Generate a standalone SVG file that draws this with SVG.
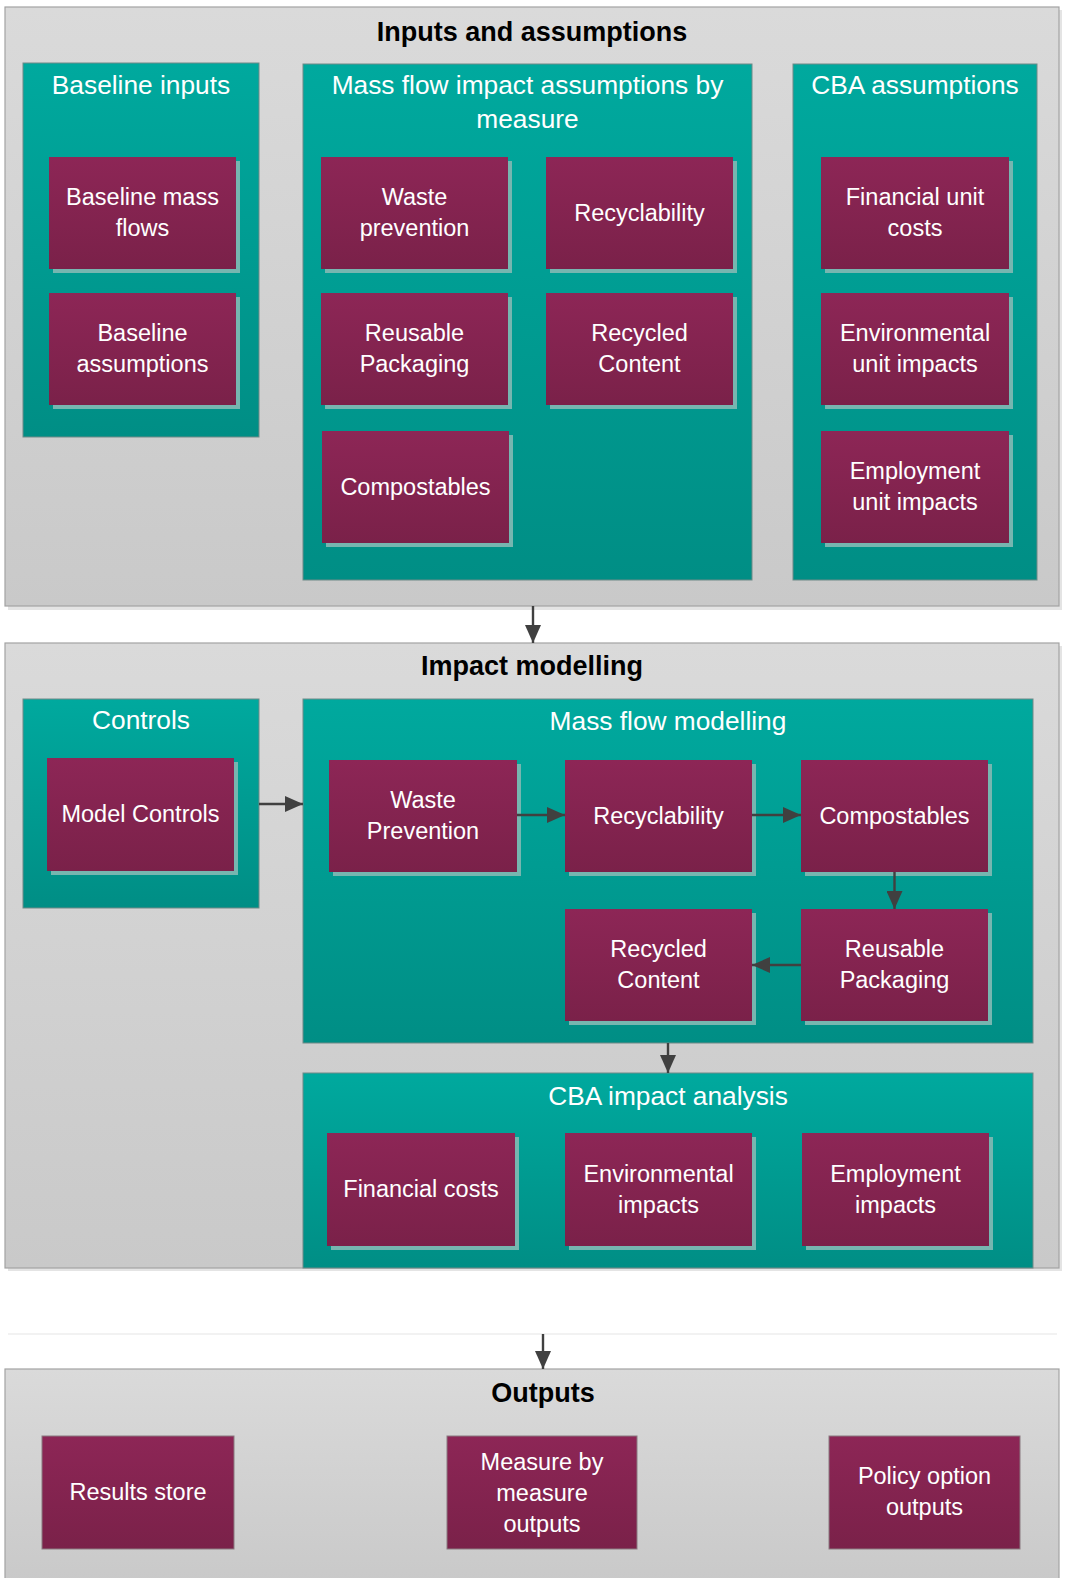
<svg xmlns="http://www.w3.org/2000/svg" width="1065" height="1578" viewBox="0 0 1065 1578">
<defs>
<linearGradient id="gGrey" x1="0" y1="0" x2="0" y2="1"><stop offset="0" stop-color="#dadada"/><stop offset="1" stop-color="#c9c9c9"/></linearGradient>
<linearGradient id="gTeal" x1="0" y1="0" x2="0" y2="1"><stop offset="0" stop-color="#00a99e"/><stop offset="1" stop-color="#008e85"/></linearGradient>
<linearGradient id="gMag" x1="0" y1="0" x2="0" y2="1"><stop offset="0" stop-color="#8d2656"/><stop offset="1" stop-color="#7a2149"/></linearGradient>
<marker id="ah" markerUnits="userSpaceOnUse" markerWidth="18" markerHeight="16" refX="18" refY="8" orient="auto"><path d="M0,0 L18,8 L0,16 z" fill="#404040"/></marker>
<style>
.panel{fill:url(#gGrey);stroke:#a3a3a3;stroke-width:1.2}
.pshadow{fill:#e4e4e4}
.teal{fill:url(#gTeal);stroke:#6e8a87;stroke-width:1}
.mag{fill:url(#gMag)}
.outb{fill:url(#gMag);stroke:#8a7a80;stroke-width:1}
.sh{fill:#76b6b0}
.pt{font-family:"Liberation Sans",Arial,sans-serif;font-weight:bold;font-size:27px;fill:#000;text-anchor:middle}
.th{font-family:"Liberation Sans",Arial,sans-serif;font-size:26.3px;fill:#fff;text-anchor:middle}
.bt{font-family:"Liberation Sans",Arial,sans-serif;font-size:23.5px;fill:#fff;text-anchor:middle}
.con{stroke:#404040;stroke-width:2.4;fill:none;marker-end:url(#ah)}
</style>
</defs>
<rect x="0" y="0" width="1065" height="1578" fill="#ffffff"/>

<g id="panel-inputs">
<rect class="pshadow" x="8" y="10" width="1054" height="600"/>
<rect class="panel" x="5" y="7" width="1054" height="599"/>
<text class="pt" x="532" y="41">Inputs and assumptions</text>
</g>
<g id="panel-impact">
<rect class="pshadow" x="8" y="646" width="1054" height="625"/>
<rect class="panel" x="5" y="643" width="1054" height="625"/>
<text class="pt" x="532" y="675">Impact modelling</text>
</g>
<line x1="8" y1="1334" x2="1057" y2="1334" stroke="#e6e6e6" stroke-width="1.2"/>
<g id="panel-outputs">
<rect class="panel" x="5" y="1369" width="1054" height="215"/>
<text class="pt" x="543" y="1402">Outputs</text>
</g>

<g id="baseline-inputs">
<rect class="teal" x="23" y="63" width="236" height="374"/>
<text class="th" x="141" y="94">Baseline inputs</text>
</g>
<g id="mass-flow-assumptions">
<rect class="teal" x="303" y="64" width="449" height="516"/>
<text class="th" x="527.5" y="94">Mass flow impact assumptions by</text>
<text class="th" x="527.5" y="128">measure</text>
</g>
<g id="cba-assumptions">
<rect class="teal" x="793" y="64" width="244" height="516"/>
<text class="th" x="915" y="94">CBA assumptions</text>
</g>
<g id="controls">
<rect class="teal" x="23" y="699" width="236" height="209"/>
<text class="th" x="141" y="729">Controls</text>
</g>
<g id="mass-flow-modelling">
<rect class="teal" x="303" y="699" width="730" height="344"/>
<text class="th" x="668" y="730">Mass flow modelling</text>
</g>
<g id="cba-impact-analysis">
<rect class="teal" x="303" y="1073" width="730" height="195"/>
<text class="th" x="668" y="1105">CBA impact analysis</text>
</g>

<g id="baseline-mass-flows">
<rect class="sh" x="53" y="161" width="187" height="112"/>
<rect class="mag" x="49" y="157" width="187" height="112"/>
<text class="bt" x="142.5" y="205">Baseline mass</text>
<text class="bt" x="142.5" y="236">flows</text>
</g>
<g id="baseline-assumptions">
<rect class="sh" x="53" y="297" width="187" height="112"/>
<rect class="mag" x="49" y="293" width="187" height="112"/>
<text class="bt" x="142.5" y="341">Baseline</text>
<text class="bt" x="142.5" y="372">assumptions</text>
</g>
<g id="waste-prevention-a">
<rect class="sh" x="325" y="161" width="187" height="112"/>
<rect class="mag" x="321" y="157" width="187" height="112"/>
<text class="bt" x="414.5" y="205">Waste</text>
<text class="bt" x="414.5" y="236">prevention</text>
</g>
<g id="recyclability-a">
<rect class="sh" x="550" y="161" width="187" height="112"/>
<rect class="mag" x="546" y="157" width="187" height="112"/>
<text class="bt" x="639.5" y="221">Recyclability</text>
</g>
<g id="reusable-packaging-a">
<rect class="sh" x="325" y="297" width="187" height="112"/>
<rect class="mag" x="321" y="293" width="187" height="112"/>
<text class="bt" x="414.5" y="341">Reusable</text>
<text class="bt" x="414.5" y="372">Packaging</text>
</g>
<g id="recycled-content-a">
<rect class="sh" x="550" y="297" width="187" height="112"/>
<rect class="mag" x="546" y="293" width="187" height="112"/>
<text class="bt" x="639.5" y="341">Recycled</text>
<text class="bt" x="639.5" y="372">Content</text>
</g>
<g id="compostables-a">
<rect class="sh" x="326" y="435" width="187" height="112"/>
<rect class="mag" x="322" y="431" width="187" height="112"/>
<text class="bt" x="415.5" y="495">Compostables</text>
</g>
<g id="financial-unit-costs">
<rect class="sh" x="825" y="161" width="188" height="112"/>
<rect class="mag" x="821" y="157" width="188" height="112"/>
<text class="bt" x="915" y="205">Financial unit</text>
<text class="bt" x="915" y="236">costs</text>
</g>
<g id="environmental-unit-impacts">
<rect class="sh" x="825" y="297" width="188" height="112"/>
<rect class="mag" x="821" y="293" width="188" height="112"/>
<text class="bt" x="915" y="341">Environmental</text>
<text class="bt" x="915" y="372">unit impacts</text>
</g>
<g id="employment-unit-impacts">
<rect class="sh" x="825" y="435" width="188" height="112"/>
<rect class="mag" x="821" y="431" width="188" height="112"/>
<text class="bt" x="915" y="479">Employment</text>
<text class="bt" x="915" y="510">unit impacts</text>
</g>

<g id="model-controls">
<rect class="sh" x="51" y="762" width="187" height="113"/>
<rect class="mag" x="47" y="758" width="187" height="113"/>
<text class="bt" x="140.5" y="822">Model Controls</text>
</g>
<g id="waste-prevention-m">
<rect class="sh" x="333" y="764" width="188" height="112"/>
<rect class="mag" x="329" y="760" width="188" height="112"/>
<text class="bt" x="423" y="808">Waste</text>
<text class="bt" x="423" y="839">Prevention</text>
</g>
<g id="recyclability-m">
<rect class="sh" x="569" y="764" width="187" height="112"/>
<rect class="mag" x="565" y="760" width="187" height="112"/>
<text class="bt" x="658.5" y="824">Recyclability</text>
</g>
<g id="compostables-m">
<rect class="sh" x="805" y="764" width="187" height="112"/>
<rect class="mag" x="801" y="760" width="187" height="112"/>
<text class="bt" x="894.5" y="824">Compostables</text>
</g>
<g id="recycled-content-m">
<rect class="sh" x="569" y="913" width="187" height="112"/>
<rect class="mag" x="565" y="909" width="187" height="112"/>
<text class="bt" x="658.5" y="957">Recycled</text>
<text class="bt" x="658.5" y="988">Content</text>
</g>
<g id="reusable-packaging-m">
<rect class="sh" x="805" y="913" width="187" height="112"/>
<rect class="mag" x="801" y="909" width="187" height="112"/>
<text class="bt" x="894.5" y="957">Reusable</text>
<text class="bt" x="894.5" y="988">Packaging</text>
</g>
<g id="financial-costs">
<rect class="sh" x="331" y="1137" width="188" height="113"/>
<rect class="mag" x="327" y="1133" width="188" height="113"/>
<text class="bt" x="421" y="1197">Financial costs</text>
</g>
<g id="environmental-impacts">
<rect class="sh" x="569" y="1137" width="187" height="113"/>
<rect class="mag" x="565" y="1133" width="187" height="113"/>
<text class="bt" x="658.5" y="1182">Environmental</text>
<text class="bt" x="658.5" y="1213">impacts</text>
</g>
<g id="employment-impacts">
<rect class="sh" x="806" y="1137" width="187" height="113"/>
<rect class="mag" x="802" y="1133" width="187" height="113"/>
<text class="bt" x="895.5" y="1182">Employment</text>
<text class="bt" x="895.5" y="1213">impacts</text>
</g>

<g id="results-store">
<rect class="outb" x="42" y="1436" width="192" height="113"/>
<text class="bt" x="138" y="1500">Results store</text>
</g>
<g id="measure-outputs">
<rect class="outb" x="447" y="1436" width="190" height="113"/>
<text class="bt" x="542" y="1470">Measure by</text>
<text class="bt" x="542" y="1501">measure</text>
<text class="bt" x="542" y="1532">outputs</text>
</g>
<g id="policy-outputs">
<rect class="outb" x="829" y="1436" width="191" height="113"/>
<text class="bt" x="924.5" y="1484">Policy option</text>
<text class="bt" x="924.5" y="1515">outputs</text>
</g>

<g id="connectors">
<line class="con" x1="533" y1="606" x2="533" y2="643"/>
<line class="con" x1="259" y1="804" x2="303" y2="804"/>
<line class="con" x1="517" y1="815" x2="565" y2="815"/>
<line class="con" x1="752" y1="815" x2="801" y2="815"/>
<line class="con" x1="894.5" y1="872" x2="894.5" y2="909"/>
<line class="con" x1="801" y1="965" x2="752" y2="965"/>
<line class="con" x1="668" y1="1043" x2="668" y2="1073"/>
<line class="con" x1="543" y1="1334" x2="543" y2="1369"/>
</g>
</svg>
